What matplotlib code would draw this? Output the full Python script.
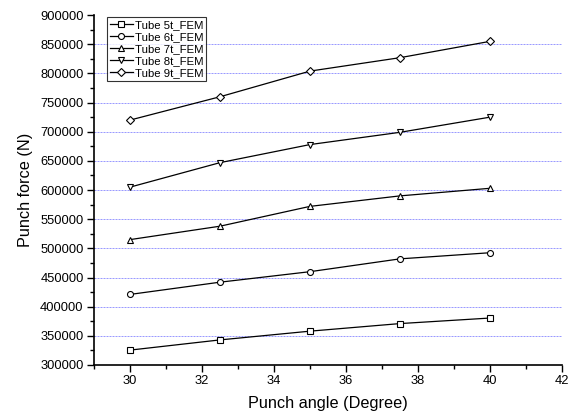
import matplotlib
matplotlib.use("Agg")
import matplotlib.pyplot as plt
from matplotlib.ticker import MultipleLocator

plt.rcParams['font.family'] = ['Liberation Sans', 'DejaVu Sans']

angles = [30, 32.5, 35, 37.5, 40]
tube5 = [325500, 343000, 358000, 371000, 380500]
tube6 = [421000, 442000, 460000, 482000, 492500]
tube7 = [515000, 538000, 572000, 590000, 603000]
tube8 = [605000, 647000, 678000, 699000, 725000]
tube9 = [720000, 760000, 804000, 827000, 855000]
labels = ['Tube 5t_FEM', 'Tube 6t_FEM', 'Tube 7t_FEM', 'Tube 8t_FEM', 'Tube 9t_FEM']
markers = ['s', 'o', '^', 'v', 'D']
sizes = [4, 4.3, 5, 5, 4.0]
series = [tube5, tube6, tube7, tube8, tube9]

fig = plt.figure(figsize=(5.74, 4.2), dpi=100)
ax = fig.add_axes([0.1638, 0.131, 0.8152, 0.833])

for vals, lab, mk, ms in zip(series, labels, markers, sizes):
    ax.plot(angles, vals, color='black', lw=0.9, marker=mk, ms=ms,
            mfc='white', mec='black', mew=0.8, label=lab)

ax.set_xlim(29, 42)
ax.set_ylim(300000, 900000)
ax.xaxis.set_major_locator(MultipleLocator(2))
ax.xaxis.set_minor_locator(MultipleLocator(1))
ax.yaxis.set_major_locator(MultipleLocator(50000))
ax.yaxis.set_minor_locator(MultipleLocator(25000))
ax.tick_params(which='major', direction='out', length=5, width=1, labelsize=9.3, pad=2.5)
ax.tick_params(which='minor', direction='out', length=3, width=1)
for s in ['top', 'right']:
    ax.spines[s].set_visible(False)
for s in ['left', 'bottom']:
    ax.spines[s].set_linewidth(1.2)

ax.grid(axis='y', which='major', color='#9a9aff', ls=(0, (2, 1)), lw=0.72)
fig.canvas.draw()
for t in ax.yaxis.get_major_ticks():
    if t.get_loc() <= 300000 or t.get_loc() >= 900000:
        t.gridline.set_visible(False)

ax.set_xlabel('Punch angle (Degree)', fontsize=11.7, labelpad=6)
ax.set_ylabel('Punch force (N)', fontsize=11.7, labelpad=5)

leg = ax.legend(loc='upper left', bbox_to_anchor=(0.028, 0.995), fontsize=8.2,
                frameon=True, fancybox=False, edgecolor='black', borderpad=0.25,
                labelspacing=0.18, handlelength=2.0, handletextpad=0.2, borderaxespad=0)
leg.get_frame().set_linewidth(0.8)

fig.savefig('out.png', dpi=100)
